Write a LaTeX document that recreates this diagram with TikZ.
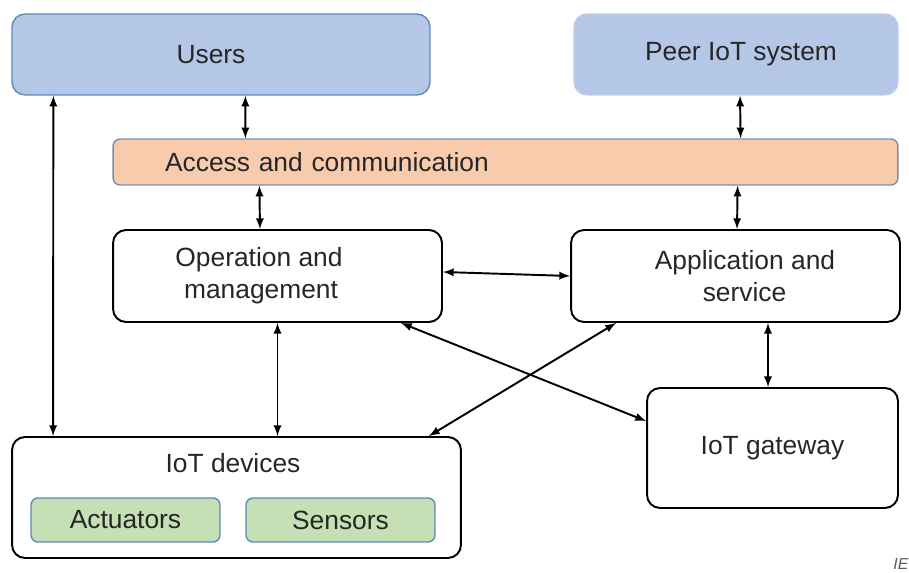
\documentclass[tikz,border=0pt]{standalone}
\usepackage{fontspec}
\setmainfont{Liberation Sans}
\usepackage{tikz}
\usetikzlibrary{calc,arrows}
\definecolor{boxblue}{HTML}{B4C7E7}
\definecolor{boxorange}{HTML}{F8CBAD}
\definecolor{boxgreen}{HTML}{C5E0B4}
\definecolor{edgeblue}{HTML}{5E89B9}
\definecolor{edgegrey}{HTML}{7391AD}
\definecolor{txt}{HTML}{262626}

\begin{document}
\begin{tikzpicture}[x=0.02cm,y=-0.02cm,
    font=\fontsize{15}{18}\selectfont,text=txt,
    blk/.style={draw=black,line width=1.1pt,rounded corners=0.26cm,fill=white,align=center,inner sep=0pt},
    dbl/.style={latex-latex,line width=1.1pt}]
              \useasboundingbox (0,0) rectangle (909,573);
              % top row
              \node[fill=boxblue,draw=edgeblue,line width=0.8pt,rounded corners=0.26cm,minimum width=8.36cm,minimum height=1.62cm](users)at(221,54.5){\hspace*{-0.4cm}Users};
              \node[fill=boxblue,draw=boxblue!85!white,line width=0.8pt,rounded corners=0.26cm,minimum width=6.48cm,minimum height=1.62cm](peer)at(736,54.5){\hspace*{0.2cm}Peer IoT system};
              \node[fill=boxorange,draw=edgegrey,line width=0.8pt,rounded corners=0.14cm,minimum height=0.92cm,inner xsep=1.04cm,text width=13.62cm,align=left](access)at(505.5,162){Access and communication};
              % middle row
              \node[blk,minimum width=6.58cm,minimum height=1.84cm](oper)at(277.5,276){\hspace*{-0.74cm}Operation and\\\hspace*{-0.66cm}management};
              \node[blk,minimum width=6.58cm,minimum height=1.84cm](appl)at(735.5,276){\hspace*{0.38cm}Application and\\\hspace*{0.36cm}service};
              \node[blk,minimum width=5.02cm,minimum height=2.4cm](gate)at(772.5,448){IoT gateway};
              % devices
              \node[blk,minimum width=8.98cm,minimum height=2.42cm](devices)at(236.5,497.5){};
              \node(devtitle)at(233,463){IoT devices};
              \node[fill=boxgreen,draw=edgeblue,line width=0.8pt,rounded corners=0.14cm,minimum width=3.78cm,minimum height=0.88cm](act)at(125.5,520){Actuators};
              \node[fill=boxgreen,draw=edgeblue,line width=0.8pt,rounded corners=0.14cm,minimum width=3.78cm,minimum height=0.88cm](sens)at(340.5,520){Sensors};
              \node[font=\fontsize{9}{10}\selectfont\itshape,text=black!65,anchor=base west,inner sep=0pt](mark)at(893,570){IE};
              % connectors
              \draw[dbl] ($(users.south west)+(42,0)$) -- ($(devices.north west)+(42,0)$);
              \draw[dbl] ($(users.south west)+(234,0)$) -- ($(access.north west)+(133,0)$);
              \draw[dbl] ($(peer.south)+(4,0)$) -- ($(access.north east)+(-158,0)$);
              \draw[dbl] ($(access.south west)+(147,0)$) -- ($(oper.north)+(-17.5,0)$);
              \draw[dbl] ($(access.south east)+(-161,0)$) -- ($(appl.north)+(1.5,0)$);
              \draw[dbl] ($(oper.east)+(0,-4)$) -- (appl.west);
              \draw[dbl] (oper.south) -- (oper.south |- devices.north);
              \draw[dbl] ($(oper.south east)+(-42,0)$) -- ($(gate.north west)+(0,34)$);
              \draw[dbl] ($(appl.south west)+(46,0)$) -- ($(devices.north east)+(-33,0)$);
              \draw[dbl] ($(appl.south)+(32.5,0)$) -- ($(gate.north)+(-4.5,0)$);
            \end{tikzpicture}
\end{document}
